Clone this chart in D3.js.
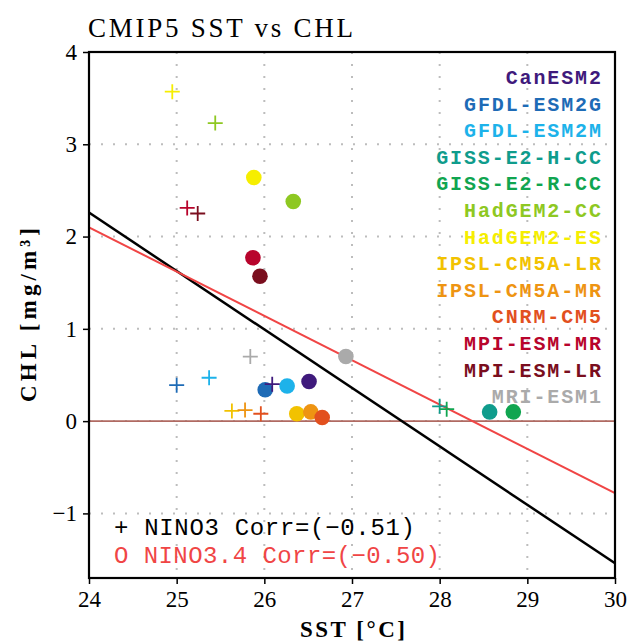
<!DOCTYPE html>
<html><head><meta charset="utf-8">
<script src="https://cdn.jsdelivr.net/npm/d3@7"></script>
<style>body{margin:0;background:#fff}svg{display:block}</style>
</head><body>
<svg id="c" width="630" height="644"></svg>
<script>
const models = ["CanESM2","GFDL-ESM2G","GFDL-ESM2M","GISS-E2-H-CC","GISS-E2-R-CC","HadGEM2-CC","HadGEM2-ES","IPSL-CM5A-LR","IPSL-CM5A-MR","CNRM-CM5","MPI-ESM-MR","MPI-ESM-LR","MRI-ESM1"];
const colors = ["#3f1a7c","#1e6bb6","#1db2ea","#0f9c8c","#10a550","#8ec822","#f6ee00","#f2c200","#ee9412","#e2501e","#b8042c","#7a0e1e","#aaaaaa"];
// NINO3 (plus markers)
const nino3SST = [26.09,25.00,25.37,28.00,28.08,25.44,24.95,25.63,25.78,25.96,25.12,25.24,25.84];
const nino3CHL = [0.40,0.39,0.47,0.16,0.13,3.23,3.57,0.11,0.12,0.08,2.31,2.25,0.70];
// NINO3.4 (circle markers)
const nino34SST = [26.51,26.01,26.26,28.57,28.84,26.33,25.88,26.37,26.53,26.66,25.87,25.95,26.93];
const nino34CHL = [0.43,0.34,0.38,0.10,0.10,2.38,2.64,0.08,0.10,0.04,1.77,1.57,0.70];
// regression lines evaluated at x-range ends
const fitX = [24,30];
const fitNino3 = [2.26,-1.54];
const fitNino34 = [2.10,-0.78];
const xTicks = [24,25,26,27,28,29,30];
const yTicks = [-1,0,1,2,3,4];

const svg = d3.select("#c");
const L=89,R=615,T=52,B=578;
const x = d3.scaleLinear().domain([24,30]).range([L,R]);
const y = d3.scaleLinear().domain([-1.7,4]).range([B,T]);
const serif = "'Liberation Serif','DejaVu Serif',serif";
const mono = "'Liberation Mono','DejaVu Sans Mono',monospace";

// grid
const g = svg.append("g");
g.selectAll(".gx").data(xTicks.slice(1,-1)).join("line")
  .attr("x1",d=>x(d)).attr("x2",d=>x(d)).attr("y1",T).attr("y2",B)
  .attr("stroke","#bdbdbd").attr("stroke-width",2).attr("stroke-dasharray","2,10");
g.selectAll(".gy").data(yTicks.filter(d=>d<4)).join("line")
  .attr("y1",d=>y(d)).attr("y2",d=>y(d)).attr("x1",L).attr("x2",R)
  .attr("stroke","#bdbdbd").attr("stroke-width",2).attr("stroke-dasharray","2,10");

// zero line
svg.append("line").attr("x1",L).attr("x2",R).attr("y1",y(0)).attr("y2",y(0))
  .attr("stroke","#b06a62").attr("stroke-width",1.8);

svg.append("clipPath").attr("id","clp").append("rect").attr("x",L).attr("y",T).attr("width",R-L).attr("height",B-T);

// fit lines
const line = d3.line().x(d=>x(d[0])).y(d=>y(d[1]));
svg.append("path").attr("d",line(fitX.map((v,i)=>[v,fitNino3[i]]))).attr("stroke","#000").attr("stroke-width",2.5).attr("fill","none").attr("clip-path","url(#clp)");
svg.append("path").attr("d",line(fitX.map((v,i)=>[v,fitNino34[i]]))).attr("stroke","#f04545").attr("stroke-width",2).attr("fill","none").attr("clip-path","url(#clp)");

// circles
svg.append("g").selectAll("circle").data(models.map((m,i)=>i)).join("circle")
  .attr("cx",i=>x(nino34SST[i])).attr("cy",i=>y(nino34CHL[i])).attr("r",7.8)
  .attr("fill",i=>colors[i]);
// plus markers
const s=7.5;
svg.append("g").selectAll("path").data(models.map((m,i)=>i)).join("path")
  .attr("d",i=>{const cx=x(nino3SST[i]),cy=y(nino3CHL[i]);return `M${cx-s},${cy}H${cx+s}M${cx},${cy-s}V${cy+s}`;})
  .attr("stroke",i=>colors[i]).attr("stroke-width",1.8).attr("fill","none");

// frame
svg.append("rect").attr("x",L).attr("y",T).attr("width",R-L).attr("height",B-T)
  .attr("fill","none").attr("stroke","#000").attr("stroke-width",2.2);

// axes
const ya = svg.append("g").attr("transform",`translate(${L},0)`)
  .call(d3.axisLeft(y).tickValues(yTicks).tickSize(6).tickPadding(6).tickFormat(d=>d<0?"\u2212"+Math.abs(d):d));
ya.attr("font-family",null);
ya.select(".domain").remove();
ya.selectAll("line").attr("stroke","#000").attr("stroke-width",1.5);
ya.selectAll("text").style("font-family",serif).style("font-size","23px").attr("fill","#000");
const xa = svg.append("g").attr("transform",`translate(0,${B})`)
  .call(d3.axisBottom(x).tickValues(xTicks).tickSize(6).tickPadding(7).tickFormat(d3.format("d")));
xa.attr("font-family",null);
xa.select(".domain").remove();
xa.selectAll("line").attr("stroke","#000").attr("stroke-width",1.5);
xa.selectAll("text").style("font-family",serif).style("font-size","23px").attr("fill","#000");

// title
svg.append("text").attr("x",88).attr("y",37).style("font-family",serif).style("font-size","27px")
  .attr("textLength",265).attr("lengthAdjust","spacing").text("CMIP5 SST vs CHL");
// axis labels
svg.append("text").attr("x",300).attr("y",637).style("font-family",serif)
  .attr("font-weight","bold").style("font-size","23px").attr("textLength",105).attr("lengthAdjust","spacing").text("SST [\u00b0C]");
svg.append("text").attr("transform","translate(36,402) rotate(-90)")
  .style("font-family",serif).attr("font-weight","bold").style("font-size","23px")
  .attr("textLength",174).attr("lengthAdjust","spacing").text("CHL [mg/m\u00b3]");

// model legend (right-aligned at x=601)
const cw = 13.9;
svg.append("g").selectAll("text").data(models).join("text")
  .attr("x",d=>601-(d.length*cw-2)).attr("y",(d,i)=>84+i*26.6)
  .style("font-family",mono).attr("font-weight","bold").style("font-size","20px")
  .attr("textLength",d=>d.length*cw-2).attr("lengthAdjust","spacing")
  .attr("fill",(d,i)=>colors[i]).text(d=>d);

// corr legend
svg.append("text").attr("x",114).attr("y",535).style("font-family",mono).style("font-size","24px")
  .attr("textLength",301).attr("lengthAdjust","spacing")
  .attr("fill","#000").text("+ NINO3 Corr=(\u22120.51)");
svg.append("text").attr("x",114).attr("y",563).style("font-family",mono).style("font-size","24px")
  .attr("textLength",326).attr("lengthAdjust","spacing")
  .attr("fill","#f04545").text("O NINO3.4 Corr=(\u22120.50)");
</script>
</body></html>
